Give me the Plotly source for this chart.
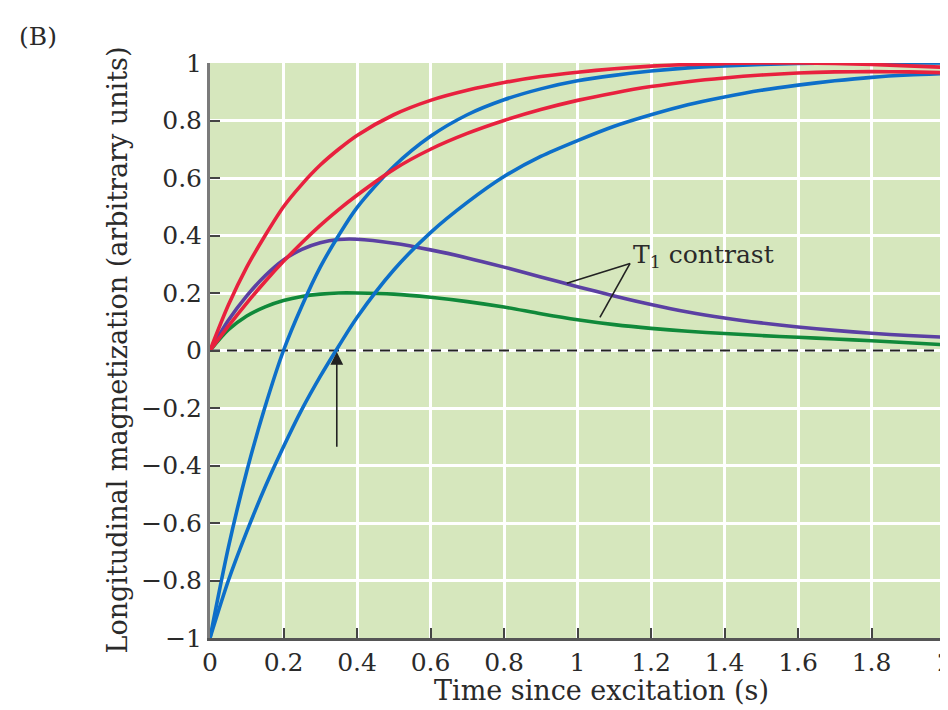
import plotly.graph_objects as go

# Time samples (s)
time_s = [0, 0.05, 0.1, 0.15, 0.2, 0.25, 0.3, 0.35, 0.4, 0.5, 0.6, 0.7, 0.8, 0.9,
          1.0, 1.1, 1.2, 1.3, 1.4, 1.5, 1.6, 1.7, 1.8, 1.9, 2.0]

# Saturation recovery (red), short and long T1
red_fast = [0, 0.158, 0.29, 0.40, 0.50, 0.578, 0.645, 0.70, 0.748, 0.82, 0.87, 0.905, 0.932, 0.953,
            0.968, 0.98, 0.989, 0.995, 0.998, 1.0, 1.0, 0.998, 0.995, 0.99, 0.985]
red_slow = [0, 0.085, 0.165, 0.24, 0.31, 0.375, 0.435, 0.49, 0.54, 0.63, 0.70, 0.755, 0.80, 0.838,
            0.87, 0.896, 0.918, 0.935, 0.948, 0.958, 0.965, 0.969, 0.97, 0.969, 0.966]

# Inversion recovery (blue), short and long T1
blue_fast = [-1, -0.685, -0.42, -0.195, 0.0, 0.155, 0.29, 0.40, 0.497, 0.64, 0.745, 0.82, 0.872, 0.91,
             0.938, 0.957, 0.972, 0.983, 0.99, 0.995, 0.998, 1.0, 1.0, 1.0, 1.0]
blue_slow = [-1, -0.80, -0.63, -0.475, -0.335, -0.205, -0.09, 0.015, 0.115, 0.28, 0.41, 0.515, 0.605, 0.675,
             0.73, 0.78, 0.82, 0.855, 0.882, 0.905, 0.923, 0.938, 0.95, 0.958, 0.963]

# T1 contrast curves
purple_contrast = [0, 0.105, 0.19, 0.26, 0.315, 0.352, 0.375, 0.386, 0.387, 0.373, 0.35, 0.322, 0.29, 0.256,
                   0.222, 0.19, 0.16, 0.134, 0.113, 0.096, 0.082, 0.07, 0.06, 0.052, 0.046]
green_contrast = [0, 0.072, 0.12, 0.152, 0.174, 0.188, 0.196, 0.2, 0.2, 0.196, 0.185, 0.17, 0.151, 0.128,
                  0.107, 0.09, 0.077, 0.067, 0.059, 0.052, 0.046, 0.04, 0.034, 0.027, 0.02]

x_tickvals = [0, 0.2, 0.4, 0.6, 0.8, 1, 1.2, 1.4, 1.6, 1.8, 2]
x_ticktext = ["0", "0.2", "0.4", "0.6", "0.8", "1", "1.2", "1.4", "1.6", "1.8", "2"]
y_tickvals = [-1, -0.8, -0.6, -0.4, -0.2, 0, 0.2, 0.4, 0.6, 0.8, 1]
y_ticktext = ["\u22121", "\u22120.8", "\u22120.6", "\u22120.4", "\u22120.2", "0",
              "0.2", "0.4", "0.6", "0.8", "1"]

FONT = "DejaVu Serif"
TXT = "#2a2a2a"
RED = "#e8213e"
BLUE = "#0d6fc9"
PURPLE = "#5b40a3"
GREEN = "#10893a"

fig = go.Figure()

# zero dashed line
fig.add_trace(go.Scatter(x=[0, 2], y=[0, 0], mode="lines",
                         line=dict(color="#222222", width=2, dash="10px,7px"),
                         hoverinfo="skip", showlegend=False))

for ys, col in [(green_contrast, GREEN), (purple_contrast, PURPLE),
                (blue_slow, BLUE), (blue_fast, BLUE),
                (red_slow, RED), (red_fast, RED)]:
    fig.add_trace(go.Scatter(x=time_s, y=ys, mode="lines",
                             line=dict(color=col, width=3.6, shape="spline", smoothing=0.8),
                             showlegend=False))

# page has an 8px body margin, so the figure is 940x702 placed at (8,8)
fig.update_layout(
    width=940, height=702,
    margin=dict(l=202, r=3, t=55, b=72),
    paper_bgcolor="white",
    plot_bgcolor="#d6e7bd",
    font=dict(family=FONT, size=25, color=TXT),
    showlegend=False,
)

fig.update_xaxes(
    range=[0, 2], tickvals=x_tickvals, ticktext=x_ticktext,
    showgrid=True, gridcolor="white", gridwidth=2.5, zeroline=False,
    showline=True, linecolor="#555555", linewidth=3,
    ticks="inside", ticklen=10, tickwidth=2, tickcolor="#444444",
    tickfont=dict(family=FONT, size=25, color=TXT),
    ticklabeloverflow="allow",
    automargin=False,
)
fig.update_yaxes(
    range=[-1, 1], tickvals=y_tickvals, ticktext=y_ticktext,
    showgrid=True, gridcolor="white", gridwidth=2.5, zeroline=False,
    showline=True, linecolor="#7a7a7a", linewidth=3,
    ticks="inside", ticklen=10, tickwidth=2, tickcolor="#444444",
    tickfont=dict(family=FONT, size=25, color=TXT),
    ticklabeloverflow="allow",
    automargin=False,
)

annotations = [
    dict(text="Time since excitation (s)", xref="paper", yref="paper", x=0.532, y=0,
         xanchor="center", yanchor="middle", yshift=-52, showarrow=False,
         font=dict(family=FONT, size=27, color=TXT)),
    dict(text="Longitudinal magnetization (arbitrary units)", xref="paper", yref="paper",
         x=0, y=0.5, xanchor="center", yanchor="middle", xshift=-93, textangle=-90,
         showarrow=False, font=dict(family=FONT, size=27, color=TXT)),
    dict(text="(B)", xref="paper", yref="paper", x=0, y=1, xanchor="left", yanchor="middle",
         xshift=-193, yshift=27, showarrow=False,
         font=dict(family=FONT, size=25, color=TXT)),
    dict(text="T<sub>1</sub> contrast", xref="x", yref="y", x=1.145, y=0.33,
         xanchor="left", yanchor="middle", showarrow=False,
         font=dict(family=FONT, size=25, color=TXT)),
    dict(x=0.345, y=-0.005, ax=0.345, ay=-0.34, xref="x", yref="y", axref="x", ayref="y",
         text="", showarrow=True, arrowhead=2, arrowsize=1.6, arrowwidth=1.6,
         arrowcolor="#222222"),
]
fig.update_layout(annotations=annotations)

fig.add_shape(type="line", xref="x", yref="y", x0=1.143, y0=0.303, x1=0.971, y1=0.234,
              line=dict(color="#222222", width=1.6))
fig.add_shape(type="line", xref="x", yref="y", x0=1.143, y0=0.303, x1=1.061, y1=0.115,
              line=dict(color="#222222", width=1.6))

fig.write_html("out.html")
